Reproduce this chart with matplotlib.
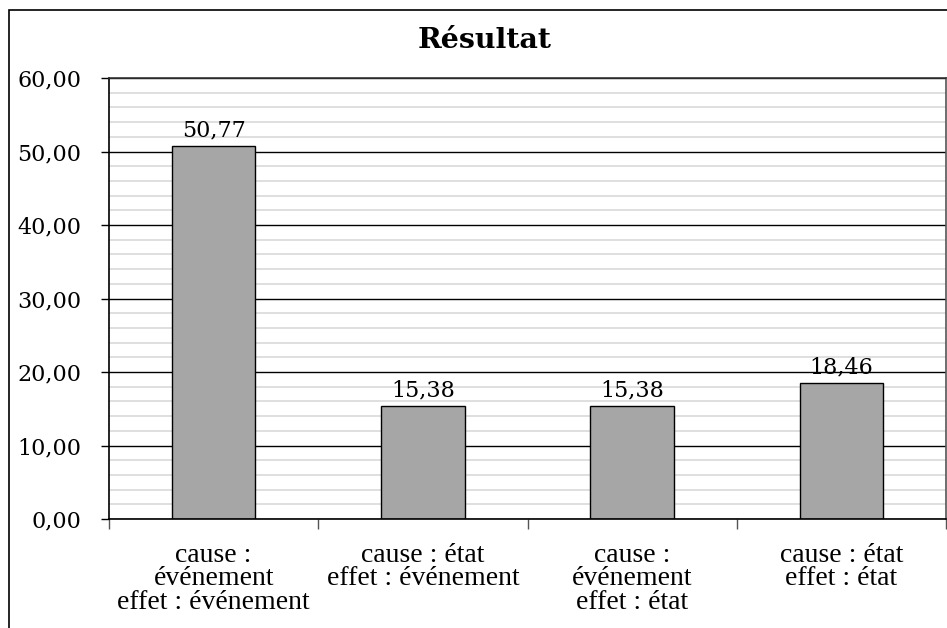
import matplotlib.pyplot as plt
import matplotlib.patches as mpatches
from matplotlib.ticker import MultipleLocator, FixedLocator, FuncFormatter

categories = ["cause :\névénement\neffet : événement",
              "cause : état\neffet : événement",
              "cause :\névénement\neffet : état",
              "cause : état\neffet : état"]
values = [50.77, 15.38, 15.38, 18.46]
title = "Résultat"

W, H = 947, 628
fig = plt.figure(figsize=(W / 100, H / 100), dpi=100)

# chart border (Excel chart area), runs off the right/bottom edges
fig.patches.append(mpatches.Rectangle((9 / W, -0.1), 1.2, 1 - 10 / H + 0.1,
                                      transform=fig.transFigure, fill=False,
                                      edgecolor="black", linewidth=1.2))

ax = fig.add_axes([109 / W, 1 - 519 / H, (946 - 109) / W, (519 - 78) / H])

x = range(len(values))
ax.bar(x, values, width=0.4, color="#A6A6A6", edgecolor="black", linewidth=1, zorder=3)

for xi, v in zip(x, values):
    ax.text(xi, v + 0.6, f"{v:.2f}".replace(".", ","), ha="center", va="bottom",
            fontsize=16, family="DejaVu Serif", zorder=4)

ax.set_xlim(-0.5, len(values) - 0.5)
ax.set_ylim(0, 60)
ax.yaxis.set_major_locator(MultipleLocator(10))
ax.yaxis.set_minor_locator(MultipleLocator(2))
ax.yaxis.set_major_formatter(FuncFormatter(lambda v, p: f"{v:.2f}".replace(".", ",")))
ax.grid(which="minor", axis="y", color="#D9D9D9", linewidth=1.2, zorder=1)
ax.grid(which="major", axis="y", color="black", linewidth=1, zorder=2)

ax.xaxis.set_major_locator(FixedLocator([i - 0.5 for i in range(len(values) + 1)]))
ax.xaxis.set_major_formatter(FuncFormatter(lambda v, p: ""))
ax.xaxis.set_minor_locator(FixedLocator(list(x)))
ax.set_xticklabels(categories, minor=True, fontsize=20, family="Liberation Serif",
                   linespacing=0.92)
ax.tick_params(axis="x", which="minor", length=0, pad=17)
ax.tick_params(axis="x", which="major", length=7, width=1, color="#555555")
ax.tick_params(axis="y", which="major", length=6, width=1, pad=14)
ax.tick_params(axis="y", which="minor", length=0)
for lab in ax.get_yticklabels():
    lab.set_family("DejaVu Serif")
    lab.set_fontsize(16)

ax.spines["top"].set_color("#333333")
ax.spines["right"].set_color("#555555")
ax.spines["left"].set_color("black")
ax.spines["bottom"].set_color("black")
for s in ax.spines.values():
    s.set_linewidth(1.2)
    s.set_zorder(5)

fig.text(485 / W, 1 - 40 / H, title, ha="center", va="center", fontsize=20.5,
         fontweight="bold", family="DejaVu Serif")

fig.savefig("out.png", dpi=100)
